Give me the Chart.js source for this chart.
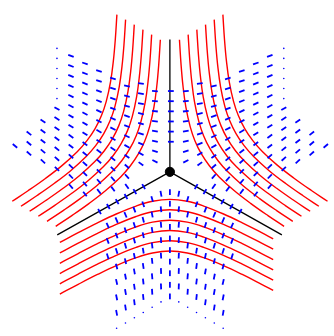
<!DOCTYPE html>
<html><head><meta charset="utf-8">
<script src="https://cdn.jsdelivr.net/npm/chart.js@4/dist/chart.umd.min.js"></script>
<style>html,body{margin:0;padding:0;background:#fff;}canvas{display:block;}</style>
</head><body>
<canvas id="c" width="334" height="336"></canvas>
<script>
// Coordinates: origin at the singular point, x to the right, y up.
// ---- red streamlines, upper-left sector ----
const redUL1 = [[-9.9,136.9],[-11.6,110.6],[-13.6,88.7],[-16.5,67.3],[-21.0,46.8],[-25.9,32.3],[-32.5,18.8],[-40.9,6.3],[-51.0,-5.2],[-66.5,-19.3],[-83.6,-32.6],[-101.6,-45.3],[-118.3,-56.4]];
const redUL2 = [[-18.9,142.1],[-20.6,115.8],[-22.6,93.9],[-25.5,72.5],[-30.0,52.0],[-34.9,37.5],[-41.5,24.0],[-49.9,11.5],[-60.0,0.0],[-75.5,-14.1],[-92.6,-27.4],[-110.6,-40.1],[-127.3,-51.2]];
const redUL3 = [[-27.9,147.3],[-29.6,121.0],[-31.6,99.1],[-34.5,77.7],[-39.0,57.2],[-43.9,42.7],[-50.5,29.2],[-58.9,16.7],[-69.0,5.2],[-84.5,-8.9],[-101.6,-22.2],[-119.6,-34.9],[-136.3,-46.0]];
const redUL4 = [[-36.9,152.5],[-38.6,126.2],[-40.6,104.3],[-43.5,82.9],[-48.0,62.4],[-52.9,47.9],[-59.5,34.4],[-67.9,21.9],[-78.0,10.4],[-93.5,-3.7],[-110.6,-17.0],[-128.6,-29.7],[-145.3,-40.8]];
const redUL5 = [[-45.9,157.7],[-47.6,131.4],[-49.6,109.5],[-52.5,88.1],[-57.0,67.6],[-61.9,53.1],[-68.5,39.6],[-76.9,27.1],[-87.0,15.6],[-102.5,1.5],[-119.6,-11.8],[-137.6,-24.5],[-154.3,-35.6]];
const redUL6 = [[-54.9,162.9],[-56.6,136.6],[-58.6,114.7],[-61.5,93.3],[-66.0,72.8],[-70.9,58.3],[-77.5,44.8],[-85.9,32.3],[-96.0,20.8],[-111.5,6.7],[-128.6,-6.6],[-146.6,-19.3],[-163.3,-30.4]];
// ---- red streamlines, upper-right sector ----
const redUR1 = [[9.9,136.9],[11.6,110.6],[13.6,88.7],[16.5,67.3],[21.0,46.8],[25.9,32.3],[32.5,18.8],[40.9,6.3],[51.0,-5.2],[66.5,-19.3],[83.6,-32.6],[101.6,-45.3],[118.3,-56.4]];
const redUR2 = [[18.9,142.1],[20.6,115.8],[22.6,93.9],[25.5,72.5],[30.0,52.0],[34.9,37.5],[41.5,24.0],[49.9,11.5],[60.0,0.0],[75.5,-14.1],[92.6,-27.4],[110.6,-40.1],[127.3,-51.2]];
const redUR3 = [[27.9,147.3],[29.6,121.0],[31.6,99.1],[34.5,77.7],[39.0,57.2],[43.9,42.7],[50.5,29.2],[58.9,16.7],[69.0,5.2],[84.5,-8.9],[101.6,-22.2],[119.6,-34.9],[136.3,-46.0]];
const redUR4 = [[36.9,152.5],[38.6,126.2],[40.6,104.3],[43.5,82.9],[48.0,62.4],[52.9,47.9],[59.5,34.4],[67.9,21.9],[78.0,10.4],[93.5,-3.7],[110.6,-17.0],[128.6,-29.7],[145.3,-40.8]];
const redUR5 = [[45.9,157.7],[47.6,131.4],[49.6,109.5],[52.5,88.1],[57.0,67.6],[61.9,53.1],[68.5,39.6],[76.9,27.1],[87.0,15.6],[102.5,1.5],[119.6,-11.8],[137.6,-24.5],[154.3,-35.6]];
const redUR6 = [[54.9,162.9],[56.6,136.6],[58.6,114.7],[61.5,93.3],[66.0,72.8],[70.9,58.3],[77.5,44.8],[85.9,32.3],[96.0,20.8],[111.5,6.7],[128.6,-6.6],[146.6,-19.3],[163.3,-30.4]];
// ---- red streamlines, bottom sector ----
const redB1 = [[-114,-73.1],[-95,-63.0],[-75,-52.8],[-55,-43.4],[-35,-35.4],[-18,-30.5],[0,-28.5],[18,-30.5],[35,-35.4],[55,-43.4],[75,-52.8],[95,-63.0],[107,-69.3]];
const redB2 = [[-114,-83.9],[-95,-73.8],[-75,-63.6],[-55,-54.2],[-35,-46.2],[-18,-41.3],[0,-39.3],[18,-41.3],[35,-46.2],[55,-54.2],[75,-63.6],[95,-73.8],[107,-80.1]];
const redB3 = [[-114,-94.7],[-95,-84.6],[-75,-74.4],[-55,-65.0],[-35,-57.0],[-18,-52.1],[0,-50.1],[18,-52.1],[35,-57.0],[55,-65.0],[75,-74.4],[95,-84.6],[107,-90.9]];
const redB4 = [[-114,-105.3],[-95,-95.2],[-75,-85.0],[-55,-75.6],[-35,-67.6],[-18,-62.7],[0,-60.7],[18,-62.7],[35,-67.6],[55,-75.6],[75,-85.0],[95,-95.2],[107,-101.5]];
const redB5 = [[-114,-115.9],[-95,-105.8],[-75,-95.6],[-55,-86.2],[-35,-78.2],[-18,-73.3],[0,-71.3],[18,-73.3],[35,-78.2],[55,-86.2],[75,-95.6],[95,-105.8],[107,-112.1]];
const redB6 = [[-114,-126.6],[-95,-116.5],[-75,-106.3],[-55,-96.9],[-35,-88.9],[-18,-84.0],[0,-82.0],[18,-84.0],[35,-88.9],[55,-96.9],[75,-106.3],[95,-116.5],[107,-122.8]];
// ---- black separatrices ----
const sepUp = [[0,0],[0,137]];
const sepLeft = [[0,0],[-116.7,-65.3]];
const sepRight = [[0,0],[116,-65.3]];
// ---- blue eigenvector marks: upper-left sector (columns) ----
const ulColX = [-15.5,-30,-44.5,-59,-73.5,-88,-102.5,-117,-131.5,-146,-160.5];
const ulColY = [
 [83.7,73.3,62.9,52.5,42.1,31.7,21.3,10.9],
 [91.5,81.1,70.7,60.3,49.9,39.5,29.1,18.7,8.3],
 [88.9,78.5,68.1,57.7,47.3,36.9,26.5,16.1,5.7,-4.7,-15.1],
 [96.7,86.3,75.9,65.5,55.1,44.7,34.3,23.9,13.5,3.1,-7.3,-17.7],
 [104.5,94.1,83.7,73.3,62.9,52.5,42.1,31.7,21.3,10.9,0.5,-9.9,-20.3],
 [112.3,101.9,91.5,81.1,70.7,60.3,49.9,39.5,29.1,18.7,8.3,-2.1,-12.5,-22.9],
 [120.1,109.7,99.3,88.9,78.5,68.1,57.7,47.3,36.9,26.5,16.1,5.7,-4.7,-15.1],
 [65.5,55.1,44.7,34.3,23.9,13.5,3.1],
 [52.5,42.1,31.7,21.3,10.9],
 [39.9,29.5,19.1],
 [26.9]];
const ulColAng = [
 [5,6,7,8,10,13,18,27],
 [9,10,11.5,13,15.5,18.5,23,29,37],
 [13,15,16.5,19,21.5,25,29.5,35,41,48,54],
 [15.5,17,19,21,23.5,26.5,30,34,38.5,43.5,48.5,53],
 [17.5,19,20.5,22.5,24.5,27,30,33,37,41,45,49,52.5],
 [19,20.5,22,23.5,25.5,28,30,33,36,39,42,45.5,49,52],
 [20,21.5,23,24.5,26.5,28,30.5,32.5,35,37.5,40.5,43.5,46.5,49],
 [30.5,32.5,34.5,37,39,41.5,44],
 [34,36,38,40.5,42.5],
 [37.5,39.5,41],
 [40]];
// ---- upper-right sector ----
const urColX = [16.5,31,45.5,60,74.5,89,103.5,118,132.5,147,161.5];
const urColY = [
 [83.7,73.3,62.9,52.5,42.1,31.7,21.3,10.9],
 [91.5,81.1,70.7,60.3,49.9,39.5,29.1,18.7,8.3],
 [88.9,78.5,68.1,57.7,47.3,36.9,26.5,16.1,5.7,-4.7,-15.1],
 [96.7,86.3,75.9,65.5,55.1,44.7,34.3,23.9,13.5,3.1,-7.3,-17.7],
 [104.5,94.1,83.7,73.3,62.9,52.5,42.1,31.7,21.3,10.9,0.5,-9.9,-20.3],
 [112.3,101.9,91.5,81.1,70.7,60.3,49.9,39.5,29.1,18.7,8.3,-2.1,-12.5,-22.9],
 [120.1,109.7,99.3,88.9,78.5,68.1,57.7,47.3,36.9,26.5,16.1,5.7,-4.7,-15.1],
 [65.5,55.1,44.7,34.3,23.9,13.5,3.1],
 [52.5,42.1,31.7,21.3,10.9],
 [39.9,29.5,19.1],
 [26.9]];
const urColAng = [
 [-5,-6,-7,-8,-10,-13,-18,-27],
 [-9,-10,-11.5,-13,-15.5,-18.5,-23,-29,-37],
 [-13,-15,-16.5,-19,-21.5,-25,-29.5,-35,-41,-48,-54],
 [-15.5,-17,-19,-21,-23.5,-26.5,-30,-34,-38.5,-43.5,-48.5,-53],
 [-17.5,-19,-20.5,-22.5,-24.5,-27,-30,-33,-37,-41,-45,-49,-52.5],
 [-19,-20.5,-22,-23.5,-25.5,-28,-30,-33,-36,-39,-42,-45.5,-49,-52],
 [-20,-21.5,-23,-24.5,-26.5,-28,-30.5,-32.5,-35,-37.5,-40.5,-43.5,-46.5,-49],
 [-30.5,-32.5,-34.5,-37,-39,-41.5,-44],
 [-34,-36,-38,-40.5,-42.5],
 [-37.5,-39.5,-41],
 [-40]];
// ---- bottom sector ----
const bColX = [-64.4,-55.2,-46,-36.8,-27.6,-18.4,-9.2,0,9.2,18.4,27.6,36.8,46,55.2,64.4];
const bColY = [
 [-55.5,-71.5,-87.5],
 [-50,-66,-82,-98,-114,-130,-146],
 [-44.5,-60.5,-76.5,-92.5,-108.5,-124.5,-140.5],
 [-39.1,-55.1,-71.1,-87.1,-103.1,-119.1,-135.1],
 [-33.6,-49.6,-65.6,-81.6,-97.6,-113.6,-129.6],
 [-28.2,-44.2,-60.2,-76.2,-92.2,-108.2,-124.2],
 [-22.7,-38.7,-54.7,-70.7,-86.7,-102.7,-118.7],
 [-21,-33,-45,-57,-69,-81,-93,-105,-117,-129],
 [-22.7,-38.7,-54.7,-70.7,-86.7,-102.7,-118.7],
 [-28.2,-44.2,-60.2,-76.2,-92.2,-108.2,-124.2],
 [-33.6,-49.6,-65.6,-81.6,-97.6,-113.6,-129.6],
 [-39.1,-55.1,-71.1,-87.1,-103.1,-119.1,-135.1],
 [-44.5,-60.5,-76.5,-92.5,-108.5,-124.5,-140.5],
 [-50,-66,-82,-98,-114,-130,-146],
 [-55.5,-71.5,-87.5]];
const bColAng = [
 [65.5,69,72],
 [66,70,73,75.5,77,78.5,79.5],
 [67,71.5,74.5,77,78.5,80,81],
 [68.5,73,76.5,78.5,80,81.5,82.5],
 [70.5,75.5,78.5,80.5,82,83,84],
 [73.5,78.5,81.5,83,84.5,85,86],
 [79,83.5,85,86.5,87,87.5,88],
 [90,90,90,90,90,90,90,90,90,90],
 [101,96.5,95,93.5,93,92.5,92],
 [106.5,101.5,98.5,97,95.5,95,94],
 [109.5,104.5,101.5,99.5,98,97,96],
 [111.5,107,103.5,101.5,100,98.5,97.5],
 [113,108.5,105.5,103,101.5,100,99],
 [114,110,107,104.5,103,101.5,100.5],
 [114.5,111,108]];
// ---- short marks (nearly point-like) at the outer edges ----
const dotX = [-117,-117,-117,-117,-117,-117,118,118,118,118,118,118,-55.2,-46,-36.8,-27.6,-18.4,-9.2,9.2,18.4,27.6,36.8,46,55.2];
const dotY = [127.9,117.5,107.1,96.7,86.3,75.9,127.9,117.5,107.1,96.7,86.3,75.9,-162,-156.5,-151.1,-145.6,-140.2,-134.7,-134.7,-140.2,-145.6,-151.1,-156.5,-162];
// ---- marks sitting on the separatrices ----
const onUpX = [1,1,1,1,1,1];
const onUpY = [83.7,73.2,62.7,52.2,41.7,31.2];
const onUpAng = [0,0,0,0,0,0];
const onLeftX = [-72.9,-63.8,-54.6,-45.5,-36.3,-27.2];
const onLeftY = [-41.1,-35.9,-30.8,-25.6,-20.5,-15.3];
const onLeftAng = [60.6,60.6,60.6,60.6,60.6,60.6];
const onRightX = [72.9,63.8,54.6,45.5,36.3,27.2];
const onRightY = [-41.1,-35.9,-30.8,-25.6,-20.5,-15.3];
const onRightAng = [-60.6,-60.6,-60.6,-60.6,-60.6,-60.6];

const RED = '#ff0000', BLUE = '#0000ff';
const datasets = [];
function curve(p, color, w) {
  datasets.push({data: p.map(q => ({x: q[0], y: q[1]})), showLine: true, borderColor: color,
    borderWidth: w, pointRadius: 0, tension: 0.4, fill: false, clip: false});
}
function marks(cx, cy, ca, r) {
  const pts = [], rot = [];
  cx.forEach((x, i) => { cy[i].forEach((y, j) => { pts.push({x, y}); rot.push(ca[i][j]); }); });
  datasets.push({data: pts, showLine: false, pointStyle: 'line', pointRadius: r, pointRotation: rot,
    pointBorderColor: BLUE, pointBorderWidth: 1.8, clip: false});
}
function marksFlat(xs, ys, as, r) {
  datasets.push({data: xs.map((x, i) => ({x, y: ys[i]})), showLine: false, pointStyle: 'line',
    pointRadius: r, pointRotation: as, pointBorderColor: BLUE, pointBorderWidth: 1.8, clip: false});
}
marks(ulColX, ulColY, ulColAng, 2.9);
marks(urColX, urColY, urColAng, 2.9);
marks(bColX, bColY, bColAng, 2.9);
marksFlat(onUpX, onUpY, onUpAng, 2.9);
marksFlat(onLeftX, onLeftY, onLeftAng, 2.9);
marksFlat(onRightX, onRightY, onRightAng, 2.9);
datasets.push({data: dotX.map((x, i) => ({x, y: dotY[i]})), showLine: false, pointStyle: 'circle',
  pointRadius: 0.8, pointBackgroundColor: BLUE, pointBorderWidth: 0, clip: false});
[redUL1, redUL2, redUL3, redUL4, redUL5, redUL6, redUR1, redUR2, redUR3, redUR4, redUR5, redUR6,
 redB1, redB2, redB3, redB4, redB5, redB6].forEach(p => curve(p, RED, 1.4));
[sepUp, sepLeft, sepRight].forEach(p => curve(p, '#000000', 1.3));
datasets.push({data: [{x: 0, y: 0}], showLine: false, pointStyle: 'circle', pointRadius: 4.6,
  pointBackgroundColor: '#000', pointBorderColor: '#000', clip: false});

new Chart(document.getElementById('c'), {
  type: 'scatter',
  data: {datasets},
  options: {
    responsive: false, animation: false, devicePixelRatio: 1, events: [],
    layout: {padding: 0},
    plugins: {legend: {display: false}, tooltip: {enabled: false}},
    scales: {
      x: {type: 'linear', min: -170, max: 164, display: false},
      y: {type: 'linear', min: -164, max: 172, display: false}
    }
  }
});
</script>
</body></html>
